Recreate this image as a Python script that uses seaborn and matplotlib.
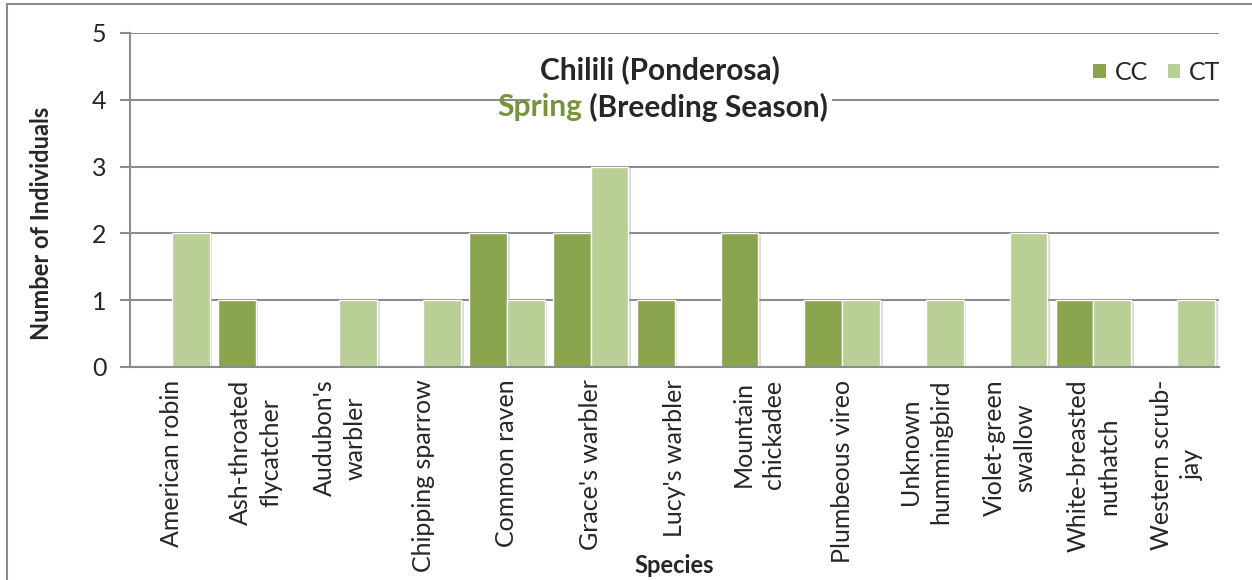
import pandas as pd
import matplotlib.pyplot as plt
import matplotlib.patches as mpatches
import matplotlib.patheffects as pe
import seaborn as sns

# data
species = ["American robin", "Ash-throated\nflycatcher", "Audubon's\nwarbler",
           "Chipping sparrow", "Common raven", "Grace's warbler", "Lucy's warbler",
           "Mountain\nchickadee", "Plumbeous vireo", "Unknown\nhummingbird",
           "Violet-green\nswallow", "White-breasted\nnuthatch", "Western scrub-\njay"]
cc_counts = [0, 1, 0, 0, 2, 2, 1, 2, 1, 0, 0, 1, 0]
ct_counts = [2, 0, 1, 1, 1, 3, 0, 0, 1, 1, 2, 1, 1]
series = ["CC", "CT"]
colors = ["#8BA44E", "#B9CF95"]
yticks = [0, 1, 2, 3, 4, 5]

data = pd.DataFrame({
    "Species": species * 2,
    "Count": cc_counts + ct_counts,
    "Series": ["CC"] * len(species) + ["CT"] * len(species),
})

sns.set_style("white")
plt.rcParams["font.family"] = ["Lato", "DejaVu Sans"]
grey = "#8c8c8c"

fig = plt.figure(figsize=(12.52, 5.8), dpi=100)
ax = fig.add_axes([130 / 1252, 213 / 580, 1089 / 1252, 334 / 580])

sns.barplot(data=data, x="Species", y="Count", hue="Series", order=species,
            hue_order=series, palette=colors, saturation=1, width=0.9,
            edgecolor="white", linewidth=1, ax=ax, legend=False)

# soft shadow on bars like the original
for bar in ax.patches:
    bar.set_path_effects([pe.SimplePatchShadow(offset=(2, -1), shadow_rgbFace="#999999", alpha=0.35),
                          pe.Normal()])

ax.set_xlim(-0.5, len(species) - 0.5)
ax.set_ylim(0, 5)
ax.set_yticks(yticks)
ax.set_yticklabels([str(v) for v in yticks], fontsize=18)
ax.set_xticks(range(len(species)))
ax.set_xticklabels(species, rotation=90, ha="center", va="top", fontsize=18,
                   multialignment="center", linespacing=1.4)
ax.set_xticks([i - 0.5 for i in range(len(species) + 1)], minor=True)
ax.tick_params(axis="x", which="major", length=0, pad=9)
ax.tick_params(axis="x", which="minor", length=7, color=grey, width=1.5, direction="out")
ax.tick_params(axis="y", length=7, color=grey, width=1.5, direction="out", pad=10, left=True)

ax.yaxis.grid(True, color=grey, lw=1.5)
ax.set_axisbelow(True)
for side in ["top", "right"]:
    ax.spines[side].set_visible(False)
for side in ["left", "bottom"]:
    ax.spines[side].set_color(grey)
    ax.spines[side].set_linewidth(1.5)

ax.set_xlabel("Species", fontsize=17, fontweight="bold", va="center")
ax.xaxis.set_label_coords(0.5, -0.593)
ax.set_ylabel("Number of Individuals", fontsize=17, fontweight="bold", va="center")
ax.yaxis.set_label_coords(-0.081, 0.43)

# legend with plain square swatches
handles = [mpatches.Patch(facecolor=c, edgecolor="none") for c in colors]
ax.legend(handles, series, loc="center", bbox_to_anchor=(0.943, 0.883), ncol=2,
          frameon=False, fontsize=18, handlelength=0.5, handleheight=0.5,
          handletextpad=0.35, columnspacing=0.8)

# title block with white background over the gridline
fig.patches.append(mpatches.Rectangle((530 / 1252, 1 - 127 / 580), 302 / 1252, 80 / 580,
                                      transform=fig.transFigure, facecolor="white",
                                      edgecolor="none", zorder=2))
fig.text(660 / 1252, 1 - 70 / 580, "Chilili (Ponderosa)", ha="center", va="center",
         fontsize=21.5, fontweight="bold", zorder=3)
t = fig.text(497 / 1252, 1 - 107 / 580, "Spring", ha="left", va="center",
             fontsize=21.5, fontweight="bold", color="#77933C", zorder=3)
fig.canvas.draw()
ext = t.get_window_extent()
fig.text(ext.x1 / fig.bbox.width, 1 - 107 / 580, " (Breeding Season)", ha="left",
         va="center", fontsize=21.5, fontweight="bold", zorder=3)

# outer chart border
fig.patches.append(mpatches.Rectangle((7 / 1252, -0.1), 1.1, 0.1 + 576 / 580,
                                      transform=fig.transFigure, fill=False,
                                      edgecolor=grey, lw=1.5, zorder=0))

fig.savefig("out.png", dpi=100)
